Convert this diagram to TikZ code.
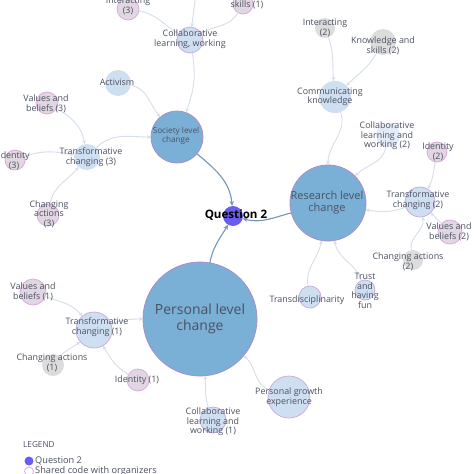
\documentclass[tikz,border=0pt]{standalone}
\usepackage{fontspec}
\setmainfont{Open Sans}
\usetikzlibrary{arrows.meta}
\definecolor{txt}{HTML}{4B5160}
\definecolor{qcol}{HTML}{6B5CF0}
\definecolor{bigfill}{HTML}{7BB0D6}
\definecolor{bigdraw}{HTML}{A98CCF}
\definecolor{lbfill}{HTML}{CFDFF2}
\definecolor{lbdraw}{HTML}{CBA6DC}
\definecolor{pkfill}{HTML}{E2D6E2}
\definecolor{pkdraw}{HTML}{D8A8D8}
\definecolor{gyfill}{HTML}{DCDCDC}
\definecolor{edgec}{HTML}{D6DEE9}
\definecolor{qedge}{HTML}{7396BA}
\tikzset{
  circ/.style={circle, inner sep=0pt, outer sep=0pt},
  qn/.style={circ, fill=qcol},
  big/.style={circ, fill=bigfill, draw=bigdraw, line width=0.8pt},
  lbp/.style={circ, fill=lbfill, draw=lbdraw, line width=0.7pt},
  lb/.style={circ, fill=lbfill},
  pk/.style={circ, fill=pkfill, draw=pkdraw, line width=0.7pt},
  gy/.style={circ, fill=gyfill},
  lbl/.style={text=txt, font=\fontsize{8.9}{9.6}\selectfont, align=center, inner sep=0pt},
  arr/.style={draw=edgec, line width=0.9pt, -{Stealth[length=4pt,width=3.6pt]}},
  qarr/.style={draw=qedge, line width=1.1pt, -{Stealth[length=5pt,width=4.5pt]}}
}
\begin{document}
\begin{tikzpicture}[x=1pt,y=1pt]
\useasboundingbox (0,0) rectangle (474,-474);
\fill[white] (0,0) rectangle (474,-474);
% circles
\node[qn, minimum size=20pt] (q2) at (233,-216) {};
\node[big, minimum size=52pt] (soc) at (177,-137) {};
\node[big, minimum size=76pt] (res) at (328,-203) {};
\node[big, minimum size=114pt] (per) at (200,-319) {};
\node[lbp, minimum size=26pt] (colw) at (190,-40) {};
\node[pk, minimum size=22pt] (int3) at (128,-9) {};
\node[pk, minimum size=20pt] (sk1) at (243,-4) {};
\coordinate (offtop) at (197,15);
\node[lb, minimum size=26pt] (act) at (118,-83) {};
\node[pk, minimum size=22pt] (val3) at (47,-103) {};
\node[lb, minimum size=26pt] (tr3) at (87,-157) {};
\node[pk, minimum size=20pt] (id3) at (15,-160) {};
\node[pk, minimum size=22pt] (ch3) at (48,-215) {};
\node[gy, minimum size=20pt] (int2) at (325,-28) {};
\node[gy, minimum size=26pt] (kn2) at (383,-42) {};
\node[lb, minimum size=32pt] (comm) at (335,-97) {};
\node[lb, minimum size=24pt, fill opacity=0.6] (col2) at (388,-135) {};
\node[pk, minimum size=20pt] (id2) at (437,-152) {};
\node[lbp, minimum size=30pt] (tr2) at (420,-202) {};
\node[pk, minimum size=24pt] (val2) at (450,-232) {};
\node[gy, minimum size=20pt] (ch2) at (413,-260) {};
\node[lbp, minimum size=20pt] (trust) at (365,-290) {};
\node[lbp, minimum size=22pt] (transd) at (310,-297) {};
\node[pk, minimum size=26pt] (val1) at (33,-292) {};
\node[lbp, minimum size=36pt] (tr1) at (94,-330) {};
\node[gy, minimum size=22pt] (ch1) at (53,-365) {};
\node[pk, minimum size=22pt] (id1) at (138,-380) {};
\node[lbp, minimum size=26pt] (col1) at (213,-420) {};
\node[lbp, minimum size=42pt] (pg) at (289,-397) {};
% edges
\draw[qarr] (soc) to[out=-40,in=95] (q2);
\draw[qarr] (res) to[out=195,in=-15] (q2);
\draw[qarr] (per) to[out=80,in=-120] (q2);
\draw[arr] (act) to[out=-10,in=130] (soc);
\draw[arr] (colw) to[out=-80,in=70] (soc);
\draw[arr] (tr3) to[out=45,in=180] (soc);
\draw[arr] (val3) to[out=-30,in=100] (tr3);
\draw[arr] (id3) to[out=20,in=170] (tr3);
\draw[arr] (ch3) to[out=80,in=-130] (tr3);
\draw[arr] (int3) to[out=-10,in=150] (colw);
\draw[arr] (sk1) to[out=-120,in=30] (colw);
\draw[arr] (offtop) -- (colw);
\draw[arr] (int2) to[out=-70,in=95] (comm);
\draw[arr] (kn2) to[out=-120,in=45] (comm);
\draw[arr] (comm) to[out=-70,in=90] (res);
\draw[arr] (col2) to[out=-100,in=45] (res);
\draw[arr] (id2) to[out=-100,in=60] (tr2);
\draw[arr] (tr2) to[out=200,in=-10] (res);
\draw[arr] (val2) to (tr2);
\draw[arr] (ch2) to[out=100,in=-80] (tr2);
\draw[arr] (transd) to[out=100,in=-100] (res);
\draw[arr] (trust) to[out=110,in=-80] (res);
\draw[arr] (val1) to[out=-20,in=130] (tr1);
\draw[arr] (tr1) to[out=20,in=180] (per);
\draw[arr] (ch1) to[out=50,in=-140] (tr1);
\draw[arr] (id1) to[out=150,in=-60] (tr1);
\draw[arr] (col1) to[out=110,in=-85] (per);
\draw[arr] (pg) to[out=160,in=-40] (per);
% labels
\node[text=black, font=\fontsize{11.6}{14}\selectfont\bfseries, inner sep=0pt] (q2t) at (236,-215) {Question 2};
\node[lbl, font=\fontsize{8.2}{8.6}\selectfont] (soct) at (176,-136) {Society level\\change};
\node[lbl, font=\fontsize{11}{12.2}\selectfont] (rest) at (327,-203) {Research level\\change};
\node[lbl, font=\fontsize{14}{16}\selectfont] (pert) at (200,-319) {Personal level\\change};
\node[lbl] (colwt) at (190,-39) {Collaborative\\learning, working};
\node[lbl] (int3t) at (128,-6) {Interacting\\(3)};
\node[lbl] (sk1t) at (247,-5) {skills (1)};
\node[lbl] (actt) at (117,-82) {Activism};
\node[lbl] (val3t) at (46,-104) {Values and\\beliefs (3)};
\node[lbl] (tr3t) at (91,-157) {Transformative\\changing (3)};
\node[lbl] (id3t) at (14,-161) {Identity\\(3)};
\node[lbl] (ch3t) at (49,-214) {Changing\\actions\\(3)};
\node[lbl] (int2t) at (325,-28) {Interacting\\(2)};
\node[lbl] (kn2t) at (383,-46) {Knowledge and\\skills (2)};
\node[lbl] (commt) at (330,-97) {Communicating\\knowledge};
\node[lbl] (col2t) at (387,-136) {Collaborative\\learning and\\working (2)};
\node[lbl] (id2t) at (438,-152) {Identity\\(2)};
\node[lbl] (tr2t) at (418,-200) {Transformative\\changing (2)};
\node[lbl] (val2t) at (449,-232) {Values and\\beliefs (2)};
\node[lbl] (ch2t) at (408,-262) {Changing actions\\(2)};
\node[lbl] (trustt) at (365,-291) {Trust\\and\\having\\fun};
\node[lbl] (transdt) at (307,-300) {Transdisciplinarity};
\node[lbl] (val1t) at (33,-292) {Values and\\beliefs (1)};
\node[lbl] (tr1t) at (97,-327) {Transformative\\changing (1)};
\node[lbl] (ch1t) at (52,-363) {Changing actions\\(1)};
\node[lbl] (id1t) at (137,-380) {Identity (1)};
\node[lbl] (col1t) at (213,-422) {Collaborative\\learning and\\working (1)};
\node[lbl] (pgt) at (289,-397) {Personal growth\\experience};
% legend
\node[lbl, anchor=west, font=\fontsize{8.2}{9}\selectfont] (leg) at (23,-445) {LEGEND};
\node[qn, minimum size=9pt] (legq) at (29,-461) {};
\node[lbl, anchor=west, font=\fontsize{9.2}{10}\selectfont] (legqt) at (35,-461) {Question 2};
\node[circ, draw=pkdraw, fill=white, line width=0.7pt, minimum size=9pt] (legs) at (29,-471.5) {};
\node[lbl, anchor=west, font=\fontsize{9.2}{10}\selectfont] (legst) at (35,-471.5) {Shared code with organizers};
\end{tikzpicture}
\end{document}
